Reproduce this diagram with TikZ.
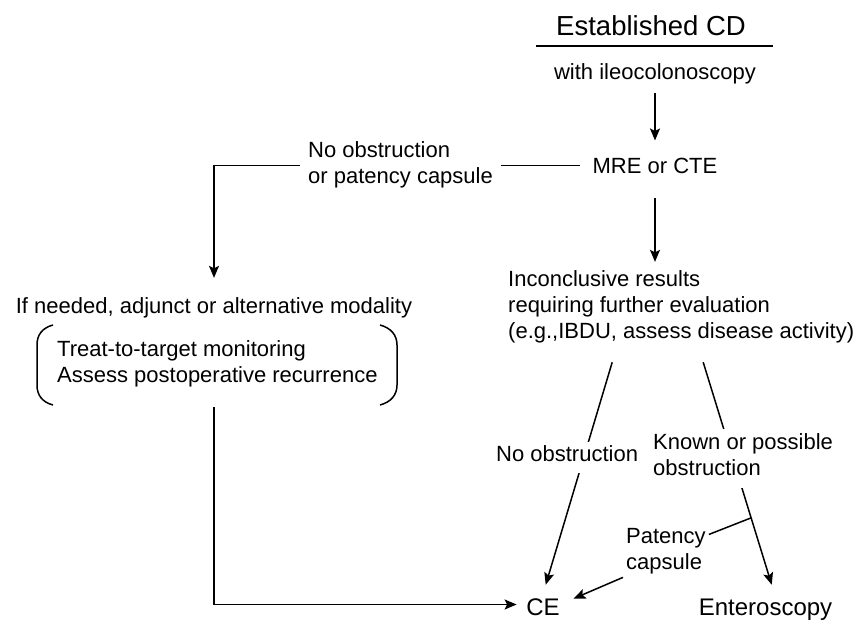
\documentclass[tikz,border=0pt]{standalone}
\usepackage{fontspec}
\setmainfont{Liberation Sans}
\usetikzlibrary{arrows.meta,calc}
\begin{document}
\begin{tikzpicture}[x=1pt,y=-1pt,
  txt/.style={inner sep=0pt,font=\fontsize{22}{26}\selectfont},
  endtxt/.style={inner sep=0pt,font=\fontsize{24}{28}\selectfont,text height=21pt,text depth=0pt,anchor=base},
  lbl/.style={txt,fill=white,align=left},
  conn/.style={line width=1.5pt},
  arr/.style={conn,-{Stealth[length=12pt,width=10pt,inset=2.5pt]}},
  brk/.style={line width=1.5pt}
]
\useasboundingbox (0,0) rectangle (857,619);
% nodes
\node[txt,font=\fontsize{27.5}{32}\selectfont,anchor=base] (est) at (651,35) {Established CD};
\draw[conn] (536,46) -- (773,46);
\node[txt,anchor=base] (with) at (655,79) {with ileocolonoscopy};
\node[txt,anchor=base] (mre) at (655,173) {MRE or CTE};
\node[txt,anchor=base] (needed) at (214,313) {If needed, adjunct or alternative modality};
\node[txt,align=left,anchor=west] (tt) at (57,364.3) {Treat-to-target monitoring\\Assess postoperative recurrence};
\node[txt,align=left,anchor=west] (inc) at (508,306.8) {Inconclusive results\\requiring further evaluation\\(e.g.,IBDU, assess disease activity)};
\node[endtxt] (ce) at (543,615) {CE};
\node[endtxt] (ent) at (765.5,615) {Enteroscopy};
\node[txt,align=left,anchor=west,inner sep=3pt] (pat) at (623,551.3) {Patency\\capsule};
% brackets
\draw[brk] (53,325) .. controls (42,328) and (37,335) .. (37,345) -- (37,385) .. controls (37,395) and (42,402) .. (53,405);
\draw[brk] (380,325) .. controls (391,328) and (397,335) .. (397,345) -- (397,385) .. controls (397,395) and (391,402) .. (380,405);
\coordinate (grpbot) at (214,407);
% connectors
\draw[arr,shorten <=9.4pt,shorten >=17pt] (with.south) -- (mre.north);
\draw[arr,shorten <=12.7pt,shorten >=19pt] (mre.west) -| (needed.north);
\draw[arr,shorten <=25pt,shorten >=8.5pt] (mre.south) -- (mre.south |- inc.north);
\draw[arr,shorten >=9.5pt] (grpbot) |- (ce.west);
\draw[arr,shorten >=9.5pt] ($(inc.south)+(-69,19)$) -- (ce.north);
\draw[arr,shorten >=9.5pt] ($(inc.south)+(22,19)$) -- coordinate[pos=0.672] (br) ($(ent.north)+(9,0)$);
\draw[conn] (br) -- (pat);
\draw[arr,shorten >=15pt] (pat.south west) -- (ce.east);
% labels on connectors
\node[lbl,inner xsep=8pt,inner ysep=2pt,anchor=west] (l1) at (300,165.1) {No obstruction\\or patency capsule};
\node[txt,fill=white,inner sep=3pt,text height=16pt,text depth=9pt,anchor=base west] (l2) at (493,461) {No obstruction};
\node[lbl,inner xsep=3pt,inner ysep=5pt,anchor=west] (l3) at (650,458.5) {Known or possible\\obstruction\rule[-8pt]{0pt}{8pt}};
\end{tikzpicture}
\end{document}
